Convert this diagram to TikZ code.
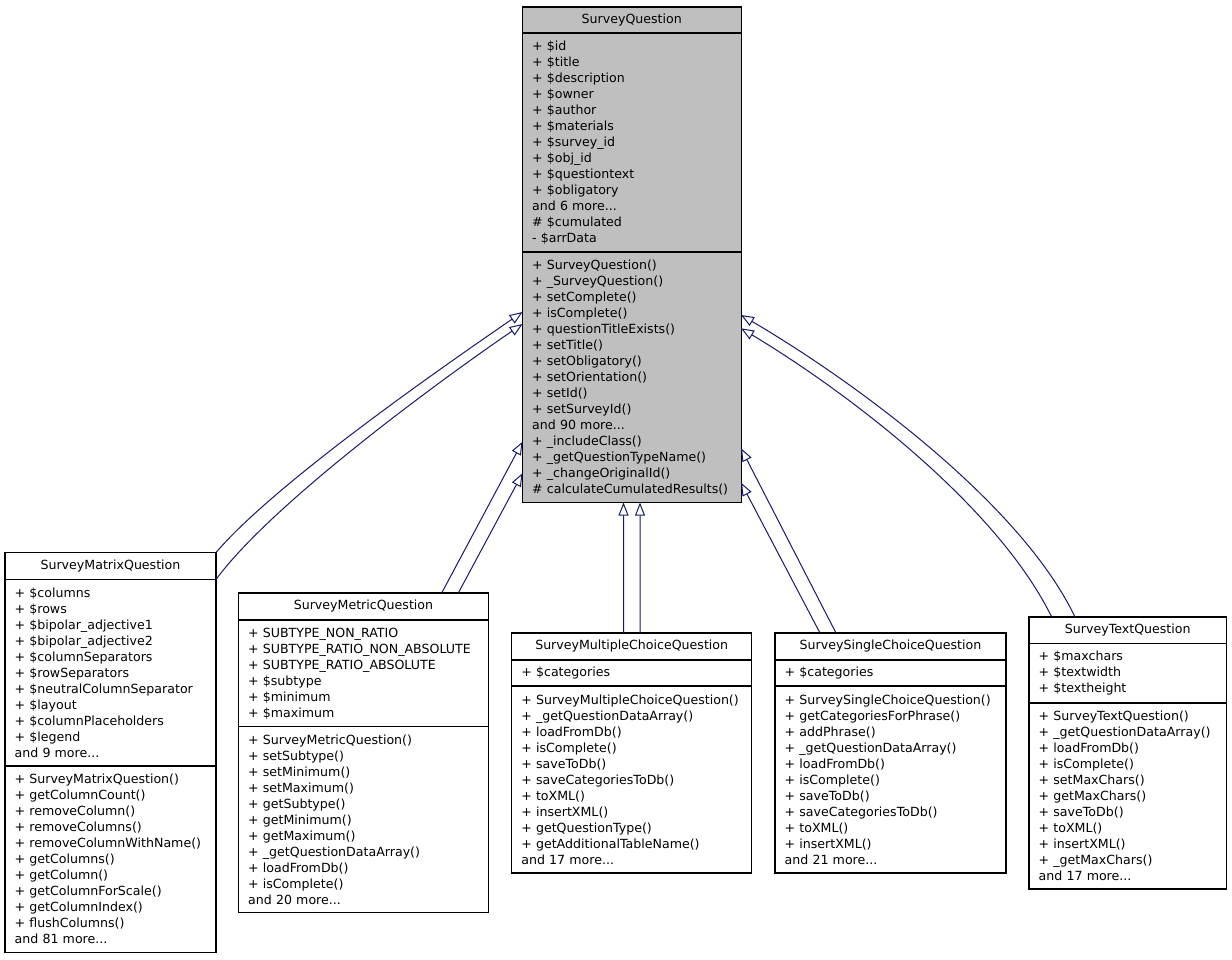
\documentclass[tikz,border=0pt]{standalone}
\usepackage{fontspec}
\setmainfont{DejaVu Sans}
\usetikzlibrary{arrows.meta,calc}
\definecolor{edgeblue}{RGB}{25,25,112}
\definecolor{basegray}{RGB}{191,191,191}
\begin{document}
\begin{tikzpicture}[x=0.75pt,y=-0.75pt,
  box/.style={draw=black, line width=0.8pt, anchor=north west, outer sep=0pt,
    inner ysep=1pt, inner xsep=7.2pt, font=\fontsize{9.45}{12}\selectfont},
  ttl/.style={box, align=center},
  lst/.style={box, align=left},
  inh/.style={draw=edgeblue, line width=0.75pt, -{Triangle[open, length=9.75pt, width=7.5pt]}},
  sepline/.style={draw=black, line width=1.3pt}
]
\fill[white] (0,0) rectangle (1232,960);
\useasboundingbox (0,0) rectangle (1232,960);

% SurveyQuestion
\node[ttl, fill=basegray, minimum width=218.5*0.75pt, minimum height=26*0.75pt, text width=149.5pt] (sqt) at (522.5,7) {SurveyQuestion};
\node[lst, fill=basegray, minimum width=218.5*0.75pt, minimum height=219*0.75pt, text width=149.5pt] (sqa) at (sqt.south west)
{+~\$id\\+~\$title\\+~\$description\\+~\$owner\\+~\$author\\+~\$materials\\+~\$survey\_id\\+~\$obj\_id\\+~\$questiontext\\+~\$obligatory\\and 6 more...\\\#~\$cumulated\\-~\$arrData};
\node[lst, fill=basegray, minimum width=218.5*0.75pt, minimum height=250.5*0.75pt, text width=149.5pt] (sqm) at (sqa.south west)
{+~SurveyQuestion()\\+~\_SurveyQuestion()\\+~setComplete()\\+~isComplete()\\+~questionTitleExists()\\+~setTitle()\\+~setObligatory()\\+~setOrientation()\\+~setId()\\+~setSurveyId()\\and 90 more...\\+~\_includeClass()\\+~\_getQuestionTypeName()\\+~\_changeOriginalId()\\\#~calculateCumulatedResults()};

% SurveyMatrixQuestion
\node[ttl, fill=white, minimum width=211*0.75pt, minimum height=27*0.75pt, text width=143.85pt] (mxt) at (5,552.5) {SurveyMatrixQuestion};
\node[lst, fill=white, minimum width=211*0.75pt, minimum height=186.5*0.75pt, text width=143.85pt] (mxa) at (mxt.south west)
{+~\$columns\\+~\$rows\\+~\$bipolar\_adjective1\\+~\$bipolar\_adjective2\\+~\$columnSeparators\\+~\$rowSeparators\\+~\$neutralColumnSeparator\\+~\$layout\\+~\$columnPlaceholders\\+~\$legend\\and 9 more...};
\node[lst, fill=white, minimum width=211*0.75pt, minimum height=186.5*0.75pt, text width=143.85pt] (mxm) at (mxa.south west)
{+~SurveyMatrixQuestion()\\+~getColumnCount()\\+~removeColumn()\\+~removeColumns()\\+~removeColumnWithName()\\+~getColumns()\\+~getColumn()\\+~getColumnForScale()\\+~getColumnIndex()\\+~flushColumns()\\and 81 more...};

% SurveyMetricQuestion
\node[ttl, fill=white, minimum width=250*0.75pt, minimum height=27*0.75pt, text width=173.1pt] (mtt) at (238.5,593) {SurveyMetricQuestion};
\node[lst, fill=white, minimum width=250*0.75pt, minimum height=106.5*0.75pt, text width=173.1pt] (mta) at (mtt.south west)
{+~SUBTYPE\_NON\_RATIO\\+~SUBTYPE\_RATIO\_NON\_ABSOLUTE\\+~SUBTYPE\_RATIO\_ABSOLUTE\\+~\$subtype\\+~\$minimum\\+~\$maximum};
\node[lst, fill=white, minimum width=250*0.75pt, minimum height=186*0.75pt, text width=173.1pt] (mtm) at (mta.south west)
{+~SurveyMetricQuestion()\\+~setSubtype()\\+~setMinimum()\\+~setMaximum()\\+~getSubtype()\\+~getMinimum()\\+~getMaximum()\\+~\_getQuestionDataArray()\\+~loadFromDb()\\+~isComplete()\\and 20 more...};

% SurveyMultipleChoiceQuestion
\node[ttl, fill=white, minimum width=240*0.75pt, minimum height=27*0.75pt, text width=165.6pt] (mct) at (511.7,633) {SurveyMultipleChoiceQuestion};
\node[lst, fill=white, minimum width=240*0.75pt, minimum height=26*0.75pt, text width=165.6pt] (mca) at (mct.south west)
{+~\$categories};
\node[lst, fill=white, minimum width=240*0.75pt, minimum height=187*0.75pt, text width=165.6pt] (mcm) at (mca.south west)
{+~SurveyMultipleChoiceQuestion()\\+~\_getQuestionDataArray()\\+~loadFromDb()\\+~isComplete()\\+~saveToDb()\\+~saveCategoriesToDb()\\+~toXML()\\+~insertXML()\\+~getQuestionType()\\+~getAdditionalTableName()\\and 17 more...};

% SurveySingleChoiceQuestion
\node[ttl, fill=white, minimum width=231*0.75pt, minimum height=27*0.75pt, text width=158.85pt] (sct) at (775,633) {SurveySingleChoiceQuestion};
\node[lst, fill=white, minimum width=231*0.75pt, minimum height=26*0.75pt, text width=158.85pt] (sca) at (sct.south west)
{+~\$categories};
\node[lst, fill=white, minimum width=231*0.75pt, minimum height=187*0.75pt, text width=158.85pt] (scm) at (sca.south west)
{+~SurveySingleChoiceQuestion()\\+~getCategoriesForPhrase()\\+~addPhrase()\\+~\_getQuestionDataArray()\\+~loadFromDb()\\+~isComplete()\\+~saveToDb()\\+~saveCategoriesToDb()\\+~toXML()\\+~insertXML()\\and 21 more...};

% SurveyTextQuestion
\node[ttl, fill=white, minimum width=197.5*0.75pt, minimum height=26.5*0.75pt, text width=133.7pt] (txt) at (1029,617) {SurveyTextQuestion};
\node[lst, fill=white, minimum width=197.5*0.75pt, minimum height=59.5*0.75pt, text width=133.7pt] (txa) at (txt.south west)
{+~\$maxchars\\+~\$textwidth\\+~\$textheight};
\node[lst, fill=white, minimum width=197.5*0.75pt, minimum height=186*0.75pt, text width=133.7pt] (txm) at (txa.south west)
{+~SurveyTextQuestion()\\+~\_getQuestionDataArray()\\+~loadFromDb()\\+~isComplete()\\+~setMaxChars()\\+~getMaxChars()\\+~saveToDb()\\+~toXML()\\+~insertXML()\\+~\_getMaxChars()\\and 17 more...};

% compartment separators
\foreach \n in {sqa,sqm,mxa,mxm,mta,mtm,mca,mcm,sca,scm,txa,txm}
  \draw[sepline] (\n.north west) -- (\n.north east);

% inheritance connectors
\draw[inh] (mxt.north east) .. controls +(60,-70) and +(-80,55) .. ($(sqm.north west)+(0,60)$);
\draw[inh] (mxa.north east) .. controls +(55,-75) and +(-85,58) .. ($(sqm.north west)+(0,72)$);
\draw[inh] ($(mtt.north west)+(203.2,0)$) -- ($(sqm.north west)+(0,189.7)$);
\draw[inh] ($(mtt.north west)+(219.8,0)$) -- ($(sqm.north west)+(0,221.3)$);
\draw[inh] ($(mct.north west)+(111.8,0)$) -- ($(sqm.south west)+(101,0)$);
\draw[inh] ($(mct.north west)+(128.3,0)$) -- ($(sqm.south west)+(117.5,0)$);
\draw[inh] ($(sct.north west)+(61,0)$) -- ($(sqm.north east)+(0,196.3)$);
\draw[inh] ($(sct.north west)+(45,0)$) -- ($(sqm.north east)+(0,230.7)$);
\draw[inh] ($(txt.north west)+(46,0)$) .. controls +(-55,-115) and +(111,65) .. ($(sqm.north east)+(0,63)$);
\draw[inh] ($(txt.north west)+(22.7,0)$) .. controls +(-55,-112) and +(105,63) .. ($(sqm.north east)+(0,76.3)$);
\end{tikzpicture}
\end{document}
